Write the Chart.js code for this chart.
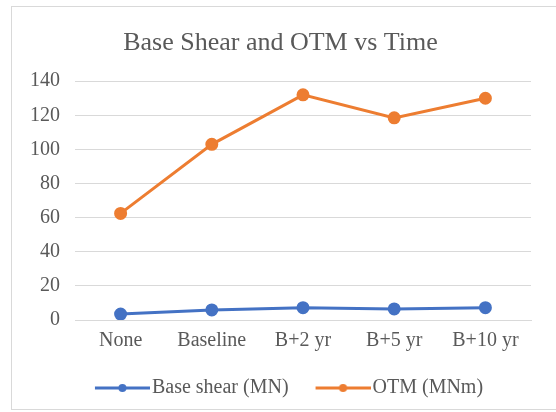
<!DOCTYPE html>
<html><head><meta charset="utf-8">
<script src="https://cdn.jsdelivr.net/npm/chart.js@4/dist/chart.umd.min.js"></script>
<style>
html,body{margin:0;padding:0;background:#fff;overflow:hidden;width:556px;height:412px;}
#frame{position:absolute;left:11px;top:6px;width:600px;height:404px;border:1px solid #d9d9d9;box-sizing:border-box;}
#wrap{position:absolute;left:0;top:0;width:556px;height:412px;}
</style></head>
<body>
<div id="frame"></div>
<div id="wrap"><canvas id="c" width="556" height="412"></canvas></div>
<script>
const categories = ["None", "Baseline", "B+2 yr", "B+5 yr", "B+10 yr"];
const baseShear = [3.5, 5.9, 7.2, 6.5, 7.2];
const otm = [62.5, 103, 132, 118.5, 130];
const yTicks = [0, 20, 40, 60, 80, 100, 120, 140];

const BLUE = "#4472C4", ORANGE = "#ED7D31", GREY = "#595959";
const FONT = "'Liberation Serif', 'Times New Roman', serif";

// legend icon: transparent lead-in, then line with a dot
const LEAD = 25, ICON_LINE = 55;
function legendIcon(color) {
  const cv = document.createElement("canvas");
  cv.width = LEAD + ICON_LINE; cv.height = 12;
  const g = cv.getContext("2d");
  g.strokeStyle = color; g.lineWidth = 3;
  g.beginPath(); g.moveTo(LEAD, 6); g.lineTo(LEAD + ICON_LINE, 6); g.stroke();
  g.fillStyle = color;
  g.beginPath(); g.arc(LEAD + ICON_LINE / 2, 6, 4, 0, Math.PI * 2); g.fill();
  return cv;
}
const icons = [legendIcon(BLUE), legendIcon(ORANGE)];

new Chart(document.getElementById("c"), {
  type: "line",
  data: {
    labels: categories,
    datasets: [
      { label: "Base shear (MN)", data: baseShear, borderColor: BLUE, backgroundColor: BLUE,
        borderWidth: 3, pointRadius: 5, pointHoverRadius: 5, tension: 0 },
      { label: "OTM (MNm)", data: otm, borderColor: ORANGE, backgroundColor: ORANGE,
        borderWidth: 3, pointRadius: 5, pointHoverRadius: 5, tension: 0 }
    ]
  },
  options: {
    responsive: false,
    animation: false,
    devicePixelRatio: 1,
    layout: { padding: { left: 30, right: 25, top: 16, bottom: 4 } },
    plugins: {
      title: { display: true, text: "Base Shear and OTM vs Time", color: GREY,
        font: { family: FONT, size: 26, weight: "normal" }, padding: { top: 12, bottom: 22 } },
      legend: { position: "bottom",
        labels: { color: GREY, font: { family: FONT, size: 20 }, usePointStyle: true, padding: 10,
          pointStyleWidth: LEAD + ICON_LINE - 16, boxHeight: 12,
          generateLabels: (chart) => chart.data.datasets.map((ds, i) => ({
            text: ds.label, fillStyle: ds.borderColor, strokeStyle: ds.borderColor,
            fontColor: GREY, pointStyle: icons[i], datasetIndex: i, lineWidth: 0, hidden: false })) } },
      tooltip: { enabled: false }
    },
    scales: {
      x: { offset: true, grid: { display: false, drawTicks: false },
        border: { display: true, color: "#d9d9d9", width: 1 },
        ticks: { color: GREY, font: { family: FONT, size: 20 }, padding: 9, maxRotation: 0 },
        afterFit: (s) => { s.height = 48; s.paddingLeft = 0; s.paddingRight = 0; } },
      y: { min: 0, max: 140, afterBuildTicks: (ax) => { ax.ticks = yTicks.map(v => ({ value: v })); },
        grid: { color: "#d9d9d9", drawTicks: false }, border: { display: false },
        ticks: { color: GREY, font: { family: FONT, size: 20 }, padding: 15 },
        afterFit: (s) => { s.width = 45; s.paddingTop = 0; s.paddingBottom = 0; } }
    }
  }
});
</script>
</body></html>
